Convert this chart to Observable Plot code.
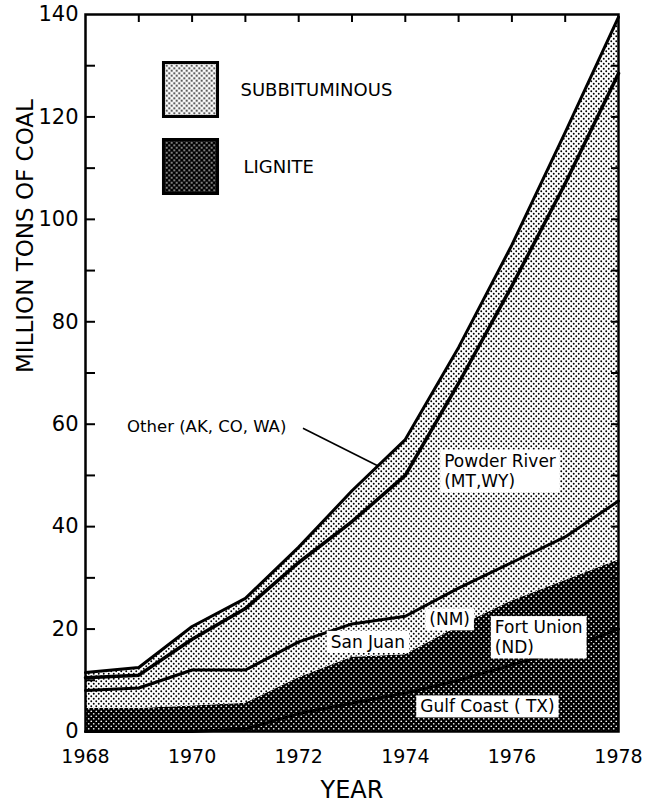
<!DOCTYPE html>
<html>
<head>
<meta charset="utf-8">
<script src="https://cdn.jsdelivr.net/npm/d3@7"></script>
<script src="https://cdn.jsdelivr.net/npm/@observablehq/plot@0.6"></script>
<style>
  html, body { margin: 0; padding: 0; background: #fff; }
  svg { display: block; }
</style>
</head>
<body>
<div id="chart"></div>
<script>
// ---- data (million tons of coal, per producing region) ----
const years = [1968, 1969, 1970, 1971, 1972, 1973, 1974, 1975, 1976, 1977, 1978];
const gulfCoast   = [0, 0, 0, 0.5, 3.5, 5.5, 7.5, 10, 13, 16, 20];        // lignite (TX)
const fortUnion   = [4.5, 4.5, 5, 5, 7, 9, 7.5, 10.5, 12.5, 13.5, 13.5];  // lignite (ND)
const sanJuan     = [3.5, 4, 7, 6.5, 7, 6.5, 7.5, 7.5, 7.5, 8.5, 11.5];   // subbituminous (NM)
const powderRiver = [2.5, 2.5, 6, 12, 15.5, 20, 27.5, 40, 54, 69, 83.5];  // subbituminous (MT, WY)
const other       = [1, 1.5, 2.5, 2, 3, 6, 7, 7, 8, 10, 11];              // subbituminous (AK, CO, WA)

const regionNames = ["Gulf Coast", "Fort Union", "San Juan", "Powder River", "Other"];
const regionRank  = ["lignite", "lignite", "subbituminous", "subbituminous", "subbituminous"];

const yTickLabels = [0, 20, 40, 60, 80, 100, 120, 140];
const yTickMarks  = [10, 20, 30, 40, 50, 60, 70, 80, 90, 100, 110, 120, 130];
const xTickLabels = [1968, 1970, 1972, 1974, 1976, 1978];
const xTickMarks  = [1969, 1970, 1971, 1972, 1973, 1974, 1975, 1976, 1977];

const legendItems = ["SUBBITUMINOUS", "LIGNITE"];

// in-chart annotations (year, million tons)
const labelTexts  = ["Powder River\n(MT,WY)", "San Juan", "(NM)", "Fort Union\n(ND)", "Gulf Coast ( TX)"];
const labelYears  = [1974.73, 1972.6, 1974.45, 1975.68, 1974.28];
const labelValues = [51.0, 17.6, 22.0, 18.5, 5.0];
const otherLabel  = "Other (AK, CO, WA)";
const otherLabelYear = 1968.78, otherLabelValue = 59.6;
const leaderFrom = [1972.08, 59.2], leaderTo = [1973.5, 51.8];

// ---- derived stacked layers ----
const series = [gulfCoast, fortUnion, sanJuan, powderRiver, other];
const layers = [];
let base = years.map(() => 0);
series.forEach((vals, k) => {
  const rows = years.map((year, i) => ({year, lo: base[i], hi: base[i] + vals[i], region: regionNames[k]}));
  layers.push(rows);
  base = rows.map(r => r.hi);
});
const patternOf = k => regionRank[k] === "lignite" ? "url(#lignitePat)" : "url(#subbitPat)";

const W = 652, H = 807, ML = 85, MR = 34, MT = 14, MB = 76;
const plotW = W - ML - MR, plotH = H - MT - MB;
const font = "DejaVu Sans, sans-serif";

const labels = labelTexts.map((text, i) => ({text, year: labelYears[i], value: labelValues[i]}));

const chart = Plot.plot({
  width: W,
  height: H,
  marginLeft: ML,
  marginRight: MR,
  marginTop: MT,
  marginBottom: MB,
  style: {fontFamily: font, color: "black", background: "white"},
  x: {domain: [1968, 1978]},
  y: {domain: [0, 140]},
  marks: [
    // stacked regions
    ...layers.map((rows, k) => Plot.areaY(rows, {x: "year", y1: "lo", y2: "hi", fill: patternOf(k), curve: "linear"})),
    // boundary lines
    ...[0, 2, 3, 4].map(k => Plot.line(layers[k], {x: "year", y: "hi", stroke: "black", strokeWidth: k === 3 ? 3.5 : 3, curve: "linear"})),
    // inward ticks
    Plot.tickY(yTickMarks, {y: d => d, insetRight: plotW - 10, stroke: "black", strokeWidth: 2}),
    Plot.tickY(yTickMarks, {y: d => d, insetLeft: plotW - 7, stroke: "black", strokeWidth: 2}),
    Plot.tickX(xTickMarks, {x: d => d, insetBottom: plotH - 8, stroke: "black", strokeWidth: 2}),
    Plot.frame({stroke: "black", strokeWidth: 2.5}),
    // axes
    Plot.axisY({ticks: yTickLabels, tickSize: 0, tickPadding: 7, fontSize: 21, label: null, tickFormat: d => String(d)}),
    Plot.axisX({ticks: xTickLabels, tickSize: 0, tickPadding: 18, fontSize: 19, label: null, tickFormat: d => String(d)}),
    Plot.text(["YEAR"], {frameAnchor: "bottom", dy: 59, fontSize: 24, lineAnchor: "middle", fill: "black"}),
    Plot.text(["MILLION TONS OF COAL"], {frameAnchor: "left", dx: -60, rotate: -90, fontSize: 23, lineAnchor: "middle", fill: "black"}),
    // region labels (boxed)
    Plot.text(labels, {x: "year", y: "value", text: "text", textAnchor: "start", lineAnchor: "middle", fontSize: 17, lineHeight: 1.2, fill: "black", ariaDescription: "region-labels"}),
    // Other label with leader
    Plot.text([otherLabel], {x: [otherLabelYear], y: [otherLabelValue], textAnchor: "start", lineAnchor: "middle", fontSize: 16.5, fill: "black"}),
    Plot.link([0], {x1: [leaderFrom[0]], y1: [leaderFrom[1]], x2: [leaderTo[0]], y2: [leaderTo[1]], stroke: "black", strokeWidth: 1.6}),
    // legend
    Plot.dot([legendItems[0]], {frameAnchor: "top-left", dx: 105, dy: 75, symbol: "square", r: 30.5, fill: "url(#subbitPat)", stroke: "black", strokeWidth: 3}),
    Plot.dot([legendItems[1]], {frameAnchor: "top-left", dx: 105, dy: 152, symbol: "square", r: 30.5, fill: "url(#lignitePat)", stroke: "black", strokeWidth: 3}),
    Plot.text([legendItems[0]], {frameAnchor: "top-left", dx: 155, dy: 76, textAnchor: "start", lineAnchor: "middle", fontSize: 18, fill: "black"}),
    Plot.text([legendItems[1]], {frameAnchor: "top-left", dx: 158, dy: 153, textAnchor: "start", lineAnchor: "middle", fontSize: 18, fill: "black"})
  ]
});

// patterns
chart.insertAdjacentHTML("afterbegin", `<defs>
  <pattern id="subbitPat" patternUnits="userSpaceOnUse" width="5" height="5">
    <rect width="5" height="5" fill="white"/>
    <circle cx="1.25" cy="1.25" r="0.95" fill="black"/>
    <circle cx="3.75" cy="3.75" r="0.95" fill="black"/>
  </pattern>
  <pattern id="lignitePat" patternUnits="userSpaceOnUse" width="5" height="5">
    <rect width="5" height="5" fill="black"/>
    <circle cx="1.25" cy="1.25" r="0.85" fill="white"/>
    <circle cx="3.75" cy="3.75" r="0.85" fill="white"/>
  </pattern>
</defs>`);

document.getElementById("chart").append(chart);

// white boxes behind region labels
const ns = "http://www.w3.org/2000/svg";
let labelGroup = chart.querySelector('g[aria-description="region-labels"]');
if (!labelGroup) {
  labelGroup = Array.from(chart.querySelectorAll('g[aria-label="text"]'))
    .find(g => g.textContent.includes("Powder River"));
}
if (labelGroup) {
  labelGroup.querySelectorAll("text").forEach(t => {
    const b = t.getBBox();
    const r = document.createElementNS(ns, "rect");
    r.setAttribute("x", b.x - 4);
    r.setAttribute("y", b.y - 1);
    r.setAttribute("width", b.width + 8);
    r.setAttribute("height", b.height + 2);
    r.setAttribute("fill", "white");
    r.setAttribute("stroke", "none");
    const tr = t.getAttribute("transform");
    if (tr) r.setAttribute("transform", tr);
    t.parentNode.insertBefore(r, t);
  });
}
</script>
</body>
</html>
